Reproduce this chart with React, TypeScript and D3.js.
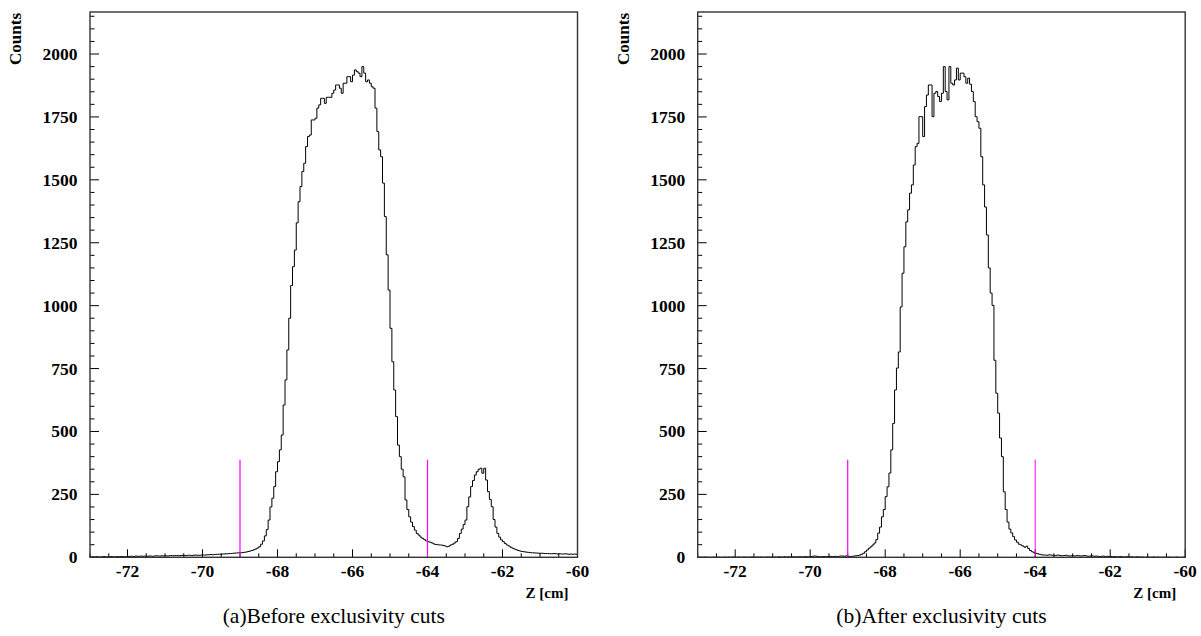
import React from "react";
import * as d3 from "d3";

const BIN_START = -73;
const BIN_WIDTH = 0.05;
const X_DOMAIN: [number, number] = [-73, -60];
const Y_MAX = 2167;
const X_MAJOR_TICKS = [-72, -70, -68, -66, -64, -62, -60];
const Y_MAJOR_TICKS = [0, 250, 500, 750, 1000, 1250, 1500, 1750, 2000];
const CUT_POSITIONS = [-69, -64];
const CUT_HEIGHT = 388;
const Y_LABEL = "Counts";
const X_LABEL = "Z [cm]";
const CAPTIONS = ["(a)Before exclusivity cuts", "(b)After exclusivity cuts"];

// Before exclusivity cuts: counts per 0.05 cm bin from -73 to -60
const countsBefore = [
  1, 2, 1, 2, 2, 1, 2, 3, 2, 2, 2, 3, 2, 2, 3, 2, 3, 3, 2, 3,
  3, 4, 4, 3, 5, 4, 4, 5, 4, 5, 4, 5, 5, 4, 5, 6, 5, 5, 6, 5,
  6, 5, 6, 7, 6, 7, 7, 6, 7, 8, 7, 7, 8, 8, 7, 8, 9, 8, 8, 9,
  9, 9, 10, 10, 11, 10, 11, 12, 12, 12, 13, 13, 14, 14, 15, 15, 16, 17, 17, 18,
  18, 19, 20, 21, 23, 25, 27, 30, 33, 37, 42, 52, 65, 85, 110, 148, 200, 235, 281, 340,
  380, 427, 486, 605, 705, 824, 950, 1080, 1155, 1221, 1329, 1413, 1473, 1533, 1566, 1632, 1672, 1678, 1738, 1738,
  1745, 1785, 1798, 1824, 1824, 1804, 1828, 1828, 1828, 1844, 1857, 1877, 1877, 1864, 1844, 1884, 1884, 1910, 1910, 1890,
  1916, 1937, 1930, 1924, 1910, 1950, 1924, 1890, 1897, 1884, 1870, 1864, 1785, 1692, 1619, 1592, 1487, 1354, 1202, 1062,
  910, 777, 665, 559, 446, 400, 350, 320, 228, 190, 161, 140, 122, 108, 95, 88, 80, 75, 70, 65,
  62, 60, 57, 53, 51, 50, 49, 49, 47, 45, 42, 44, 49, 52, 57, 62, 75, 95, 112, 130,
  148, 201, 240, 281, 305, 327, 340, 350, 354, 334, 354, 307, 261, 230, 201, 150, 120, 95, 80, 69,
  62, 55, 49, 45, 40, 36, 33, 30, 27, 25, 23, 22, 21, 20, 19, 18, 18, 17, 17, 16,
  16, 16, 15, 15, 15, 14, 14, 15, 14, 13, 14, 13, 13, 14, 13, 12, 13, 12, 13, 12,
];

// After exclusivity cuts
const countsAfter = [
  0, 0, 0, 0, 1, 0, 0, 0, 1, 0, 0, 1, 0, 0, 1, 0, 1, 0, 1, 1,
  0, 1, 1, 0, 1, 1, 0, 1, 1, 1, 0, 1, 1, 1, 1, 0, 1, 1, 1, 1,
  1, 1, 1, 2, 1, 1, 2, 1, 2, 1, 2, 2, 1, 2, 2, 2, 2, 3, 2, 2,
  3, 4, 5, 4, 3, 2, 3, 3, 2, 3, 4, 3, 3, 4, 3, 4, 5, 5, 4, 6,
  4, 3, 4, 5, 6, 7, 9, 12, 16, 22, 29, 36, 42, 49, 57, 70, 96, 120, 161, 190,
  241, 280, 335, 427, 532, 665, 752, 816, 995, 1129, 1234, 1333, 1381, 1447, 1480, 1559, 1632, 1645, 1751, 1751,
  1672, 1791, 1837, 1877, 1877, 1751, 1844, 1851, 1831, 1811, 1844, 1950, 1851, 1818, 1950, 1884, 1877, 1897, 1944, 1897,
  1924, 1924, 1910, 1884, 1904, 1880, 1851, 1811, 1751, 1731, 1705, 1592, 1480, 1392, 1281, 1150, 1050, 1001, 783, 652,
  573, 474, 400, 260, 190, 140, 112, 97, 82, 69, 60, 52, 49, 45, 40, 44, 35, 27, 22, 18,
  16, 14, 12, 10, 9, 9, 8, 10, 9, 8, 7, 8, 9, 7, 6, 7, 8, 6, 5, 6,
  6, 5, 7, 6, 5, 6, 7, 5, 4, 5, 6, 4, 5, 4, 3, 4, 5, 3, 4, 3,
  3, 2, 3, 2, 2, 3, 2, 1, 2, 2, 1, 2, 1, 1, 2, 1, 1, 1, 0, 1,
  1, 0, 1, 1, 0, 1, 0, 0, 1, 0, 0, 1, 0, 0, 0, 1, 0, 0, 0, 1,
];

const TOP = 12;
const BOTTOM = 557.3;
const FONT = "'Liberation Serif', 'Times New Roman', serif";

type PanelProps = {
  counts: number[];
  x0: number;
  x1: number;
  caption: string;
  cutWidths: number[];
};

function Panel({ counts, x0, x1, caption, cutWidths }: PanelProps) {
  const x = d3.scaleLinear().domain(X_DOMAIN).range([x0, x1]);
  const y = d3.scaleLinear().domain([0, Y_MAX]).range([BOTTOM, TOP]);
  const pts: [number, number][] = counts.map((c, i) => [BIN_START + i * BIN_WIDTH, c]);
  pts.push([BIN_START + counts.length * BIN_WIDTH, counts[counts.length - 1]]);
  const line = d3
    .line<[number, number]>()
    .x((d) => x(d[0]))
    .y((d) => y(d[1]))
    .curve(d3.curveStepAfter);

  const xMinor = d3.range(-73, -60 + 0.001, 0.5).filter((v) => !X_MAJOR_TICKS.includes(v));
  const yMinor = d3.range(0, Y_MAX, 50).filter((v) => v % 250 !== 0);
  const cx = (x0 + x1) / 2;

  return (
    <g>
      {X_MAJOR_TICKS.map((t) => (
        <line key={"xm" + t} x1={x(t)} x2={x(t)} y1={BOTTOM} y2={BOTTOM - 8} stroke="#000" strokeWidth={1} />
      ))}
      {xMinor.map((t) => (
        <line key={"xn" + t} x1={x(t)} x2={x(t)} y1={BOTTOM} y2={BOTTOM - 4} stroke="#000" strokeWidth={1} />
      ))}
      {Y_MAJOR_TICKS.map((t) => (
        <line key={"ym" + t} x1={x0} x2={x0 + 9} y1={y(t)} y2={y(t)} stroke="#000" strokeWidth={1} />
      ))}
      {yMinor.map((t) => (
        <line key={"yn" + t} x1={x0} x2={x0 + 4.5} y1={y(t)} y2={y(t)} stroke="#000" strokeWidth={1} />
      ))}
      <path d={line(pts) || ""} fill="none" stroke="#000" strokeWidth={1} />
      {CUT_POSITIONS.map((c, i) => (
        <line
          key={"cut" + c}
          x1={x(c)}
          x2={x(c)}
          y1={y(0)}
          y2={y(CUT_HEIGHT)}
          stroke="#ff00ff"
          strokeWidth={cutWidths[i]}
        />
      ))}
      <rect x={x0} y={TOP} width={x1 - x0} height={BOTTOM - TOP} fill="none" stroke="#333" strokeWidth={1.4} />
      {X_MAJOR_TICKS.map((t) => (
        <text key={"xl" + t} x={x(t)} y={577} textAnchor="middle" fontFamily={FONT} fontWeight="bold" fontSize={17.5}>
          {t}
        </text>
      ))}
      {Y_MAJOR_TICKS.map((t) => (
        <text key={"yl" + t} x={x0 - 12.5} y={y(t) + 6} textAnchor="end" fontFamily={FONT} fontWeight="bold" fontSize={17.5}>
          {t}
        </text>
      ))}
      <text
        transform={`translate(${x0 - 69},13) rotate(-90)`}
        textAnchor="end"
        fontFamily={FONT}
        fontWeight="bold"
        fontSize={17}
      >
        {Y_LABEL}
      </text>
      <text x={x1 - 9} y={598} textAnchor="end" fontFamily={FONT} fontWeight="bold" fontSize={15}>
        {X_LABEL}
      </text>
      <text x={cx} y={623} textAnchor="middle" fontFamily={FONT} fontSize={21.5}>
        {caption}
      </text>
    </g>
  );
}

export default function App() {
  return (
    <svg
      width={1201}
      height={636}
      style={{ position: "absolute", left: 0, top: 0, background: "#fff" }}
    >
      <rect x={0} y={0} width={1201} height={636} fill="#fff" />
      <Panel counts={countsBefore} x0={90} x1={577.5} caption={CAPTIONS[0]} cutWidths={[1.2, 1.2]} />
      <Panel counts={countsAfter} x0={697.7} x1={1185.2} caption={CAPTIONS[1]} cutWidths={[1.2, 1]} />
    </svg>
  );
}
